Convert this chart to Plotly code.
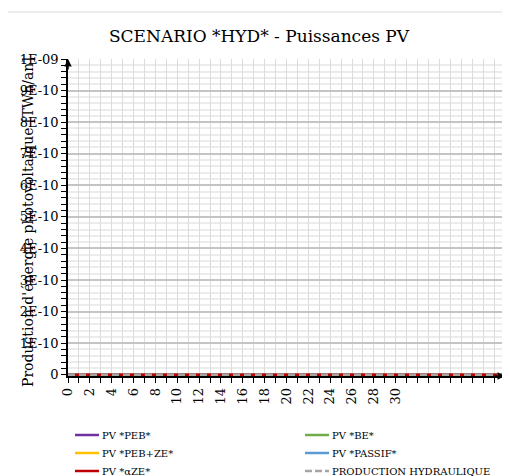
import plotly.graph_objects as go

# données (toutes les séries sont nulles sur l'horizon)
annees = list(range(41))
etiquettes_x = [str(a) if (a % 2 == 0 and a <= 30) else "" for a in annees]

pv_peb = [0] * 41
pv_be = [0] * 41
pv_peb_ze = [0] * 41
pv_passif = [0] * 41
pv_aze = [0] * 41
prod_hydraulique = [0] * 41

y_ticks = [i * 1e-10 for i in range(11)]
y_labels = ["0"] + [f"{i}E-10" for i in range(1, 10)] + ["1E-09"]

SERIF = "DejaVu Serif"

series = [
    ("PV *PEB*", pv_peb, "#7030a0", "solid"),
    ("PV *BE*", pv_be, "#70ad47", "solid"),
    ("PV *PEB+ZE*", pv_peb_ze, "#ffc000", "solid"),
    ("PV *PASSIF*", pv_passif, "#5b9bd5", "solid"),
    ("PV *αZE*", pv_aze, "#c00000", "solid"),
    ("PRODUCTION HYDRAULIQUE", prod_hydraulique, "#a6a6a6", "dash"),
]

# la page ajoute une marge de 8 px : figure un peu plus petite
W, H = 502, 468
L, R, T, B = 60, 5, 51, 100
PW, PH = W - L - R, H - T - B


def px_x(p):
    return (p - L) / PW


def px_y(p):
    return (H - B - p) / PH


fig = go.Figure()
for nom, vals, couleur, style in series:
    fig.add_trace(
        go.Scatter(
            x=annees,
            y=vals,
            mode="lines",
            name=nom,
            line=dict(color=couleur, width=2.5,
                      dash="7px,4px" if style == "dash" else "solid"),
        )
    )

fig.update_layout(
    width=W,
    height=H,
    margin=dict(l=L, r=R, t=T, b=B, autoexpand=False),
    paper_bgcolor="white",
    plot_bgcolor="white",
    font=dict(family=SERIF, color="#000000"),
    title=dict(
        text="SCENARIO *HYD* - Puissances PV",
        x=0.5,
        xanchor="center",
        y=1 - 28 / H,
        yanchor="middle",
        font=dict(family=SERIF, size=17, color="#000000"),
    ),
    showlegend=False,
    xaxis=dict(
        range=[0, 40],
        tickvals=annees,
        ticktext=etiquettes_x,
        tickangle=-90,
        ticks="outside",
        ticklen=5,
        tickcolor="#000000",
        showline=True,
        linecolor="#000000",
        linewidth=1.5,
        showgrid=True,
        gridcolor="#dcdcdc",
        gridwidth=1,
        zeroline=False,
        tickfont=dict(family=SERIF, size=13),
    ),
    yaxis=dict(
        # léger décalage pour que la ligne à 0 reste visible au-dessus de l'axe
        range=[-4e-12, 1e-9],
        tickvals=y_ticks,
        ticktext=y_labels,
        ticks="outside",
        ticklen=5,
        tickcolor="#000000",
        showline=True,
        linecolor="#000000",
        linewidth=1.5,
        showgrid=True,
        gridcolor="#c4c4c4",
        gridwidth=1.5,
        zeroline=False,
        tickfont=dict(family=SERIF, size=13),
        minor=dict(
            dtick=2e-11,
            ticks="outside",
            ticklen=5,
            tickcolor="#000000",
            showgrid=True,
            gridcolor="#ececec",
        ),
    ),
)

# titre de l'axe Y (chevauche les étiquettes comme dans l'original)
fig.add_annotation(
    text="Production d'énergie photovoltaïque [TWh/an]",
    xref="paper",
    yref="paper",
    x=px_x(10),
    y=px_y(214),
    showarrow=False,
    textangle=-90,
    font=dict(family=SERIF, size=14, color="#000000"),
)

# légende dessinée à la main : 2 colonnes, 3 lignes
cols_x = [67, 297]
rows_y = [427, 445, 463]
for i, (nom, _, couleur, style) in enumerate(series):
    cx = cols_x[i % 2]
    cy = rows_y[i // 2]
    fig.add_shape(type="line", xref="paper", yref="paper",
                  x0=px_x(cx), x1=px_x(cx + 24), y0=px_y(cy), y1=px_y(cy),
                  line=dict(color=couleur, width=2.5,
                            dash="7px,3px" if style == "dash" else "solid"))
    fig.add_annotation(text=nom, xref="paper", yref="paper",
                       x=px_x(cx + 25), y=px_y(cy), xanchor="left",
                       yanchor="middle", showarrow=False,
                       font=dict(family=SERIF, size=10, color="#000000"))

# flèches au bout des axes
fig.add_annotation(x=0, y=1e-9, xref="x", yref="y", ax=0, ay=12, axref="pixel",
                   ayref="pixel", showarrow=True, arrowhead=2, arrowsize=1,
                   arrowwidth=1.5, arrowcolor="#000000", text="")
fig.add_annotation(x=40, y=-4e-12, xref="x", yref="y", ax=-12, ay=0, axref="pixel",
                   ayref="pixel", showarrow=True, arrowhead=2, arrowsize=1,
                   arrowwidth=1.5, arrowcolor="#000000", text="")

# cadre du graphique
fig.add_shape(type="rect", xref="paper", yref="paper",
              x0=px_x(-1), x1=px_x(W + 5),
              y0=px_y(H + 5), y1=px_y(4),
              line=dict(color="#d9d9d9", width=1), layer="below")

fig.write_html("out.html")
